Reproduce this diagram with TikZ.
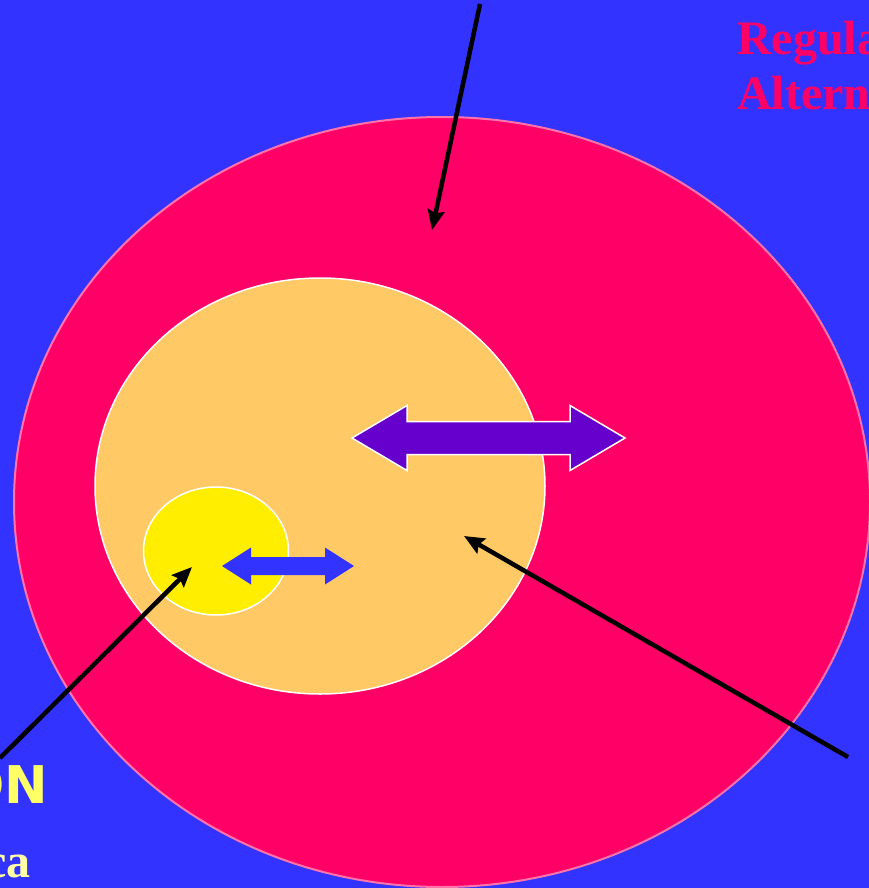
\documentclass[tikz,border=0pt]{standalone}
\usepackage{fontspec}
\usepackage{tikz}
\usetikzlibrary{positioning,shapes.geometric,arrows.meta}
\newfontfamily\slideserif{Liberation Serif}
\newfontfamily\slidesans{DejaVu Sans}
\definecolor{slideblue} {HTML}{3333FF}
\definecolor{rosered}   {HTML}{FF0066}
\definecolor{apricot}   {HTML}{FFC966}
\definecolor{lemon}     {HTML}{FFEE00}
\definecolor{violet}    {HTML}{6600CC}
\definecolor{paleyellow}{HTML}{FFFF66}
\tikzset{
  % --- nodes
  ring/.style   = {ellipse, inner sep=0pt, draw=white, line width=1.5pt},
  % --- edges
  pointer/.style= {-{Stealth[length=20pt,width=17pt,inset=3pt]}, line width=4.5pt, draw=black},
}
% #1 style, #2 centre, #3 half length, #4 head length, #5 half shaft, #6 half head
\newcommand\twowayarrow[6]{%
  \path[#1] (#2) ++(-#3,0) -- ++(#4,#6) -- ++(0,{#5-#6}) -- ++({2*#3-2*#4},0)
    -- ++(0,{#6-#5}) -- ++(#4,-#6) -- ++(-#4,-#6) -- ++(0,{#6-#5})
    -- ++({-2*#3+2*#4},0) -- ++(0,{#5-#6}) -- cycle;}
\begin{document}
\begin{tikzpicture}[x=1pt,y=1pt]
  \useasboundingbox (0,0) rectangle (869,-888);
  \clip (0,0) rectangle (869,-888);
  \fill[slideblue] (0,0) rectangle (869,-888);

  \node[ring, draw=rosered!55!white, line width=2pt, fill=rosered,
        minimum width=856pt, minimum height=770pt] (outer) at (442,-502) {};
  \node[ring, fill=apricot, minimum width=450pt, minimum height=416pt] (middle) at (320,-486) {};
  \node[ring, fill=lemon, minimum width=145pt, minimum height=128pt] (inner) at (216,-551) {};

  \coordinate (widec) at (488.5,-438);
  \coordinate (narrowc) at (288,-566);
  \twowayarrow{fill=violet, draw=white, line width=1.5pt, line join=miter}{widec}{136.5}{55}{16.5}{32.5}
  \twowayarrow{fill=slideblue}{narrowc}{66}{29}{9}{18.5}

  % --- labels, cut by the frame
  \node[anchor=base west, inner sep=0pt, text=rosered, font=\slideserif\bfseries\fontsize{48}{50}\selectfont]
    (reg) at (737,-55) {Regula};
  \node[anchor=base west, inner sep=0pt, text=rosered, font=\slideserif\bfseries\fontsize{48}{50}\selectfont]
    (alt) at (737,-110) {Altern};
  \node[anchor=base east, inner sep=0pt, text=paleyellow, font=\slidesans\bfseries\fontsize{52}{54}\selectfont]
    (on) at (48,-803) {ON};
  \node[anchor=base east, inner sep=0pt, text=paleyellow!60!white, font=\slideserif\bfseries\fontsize{48}{50}\selectfont]
    (ca) at (31,-877) {ca};

  % --- pointers
  \coordinate (topend) at (480,-4);
  \coordinate (leftend) at (0,-758);
  \coordinate (rightend) at (848,-757);
  \coordinate (outertip) at (432,-230);
  \coordinate (innertip) at (192,-567);
  \coordinate (middletip) at (464,-536);
  \draw[pointer] (topend) -- (outertip);
  \draw[pointer] (leftend) -- (innertip);
  \draw[pointer] (rightend) -- (middletip);
\end{tikzpicture}
\end{document}
